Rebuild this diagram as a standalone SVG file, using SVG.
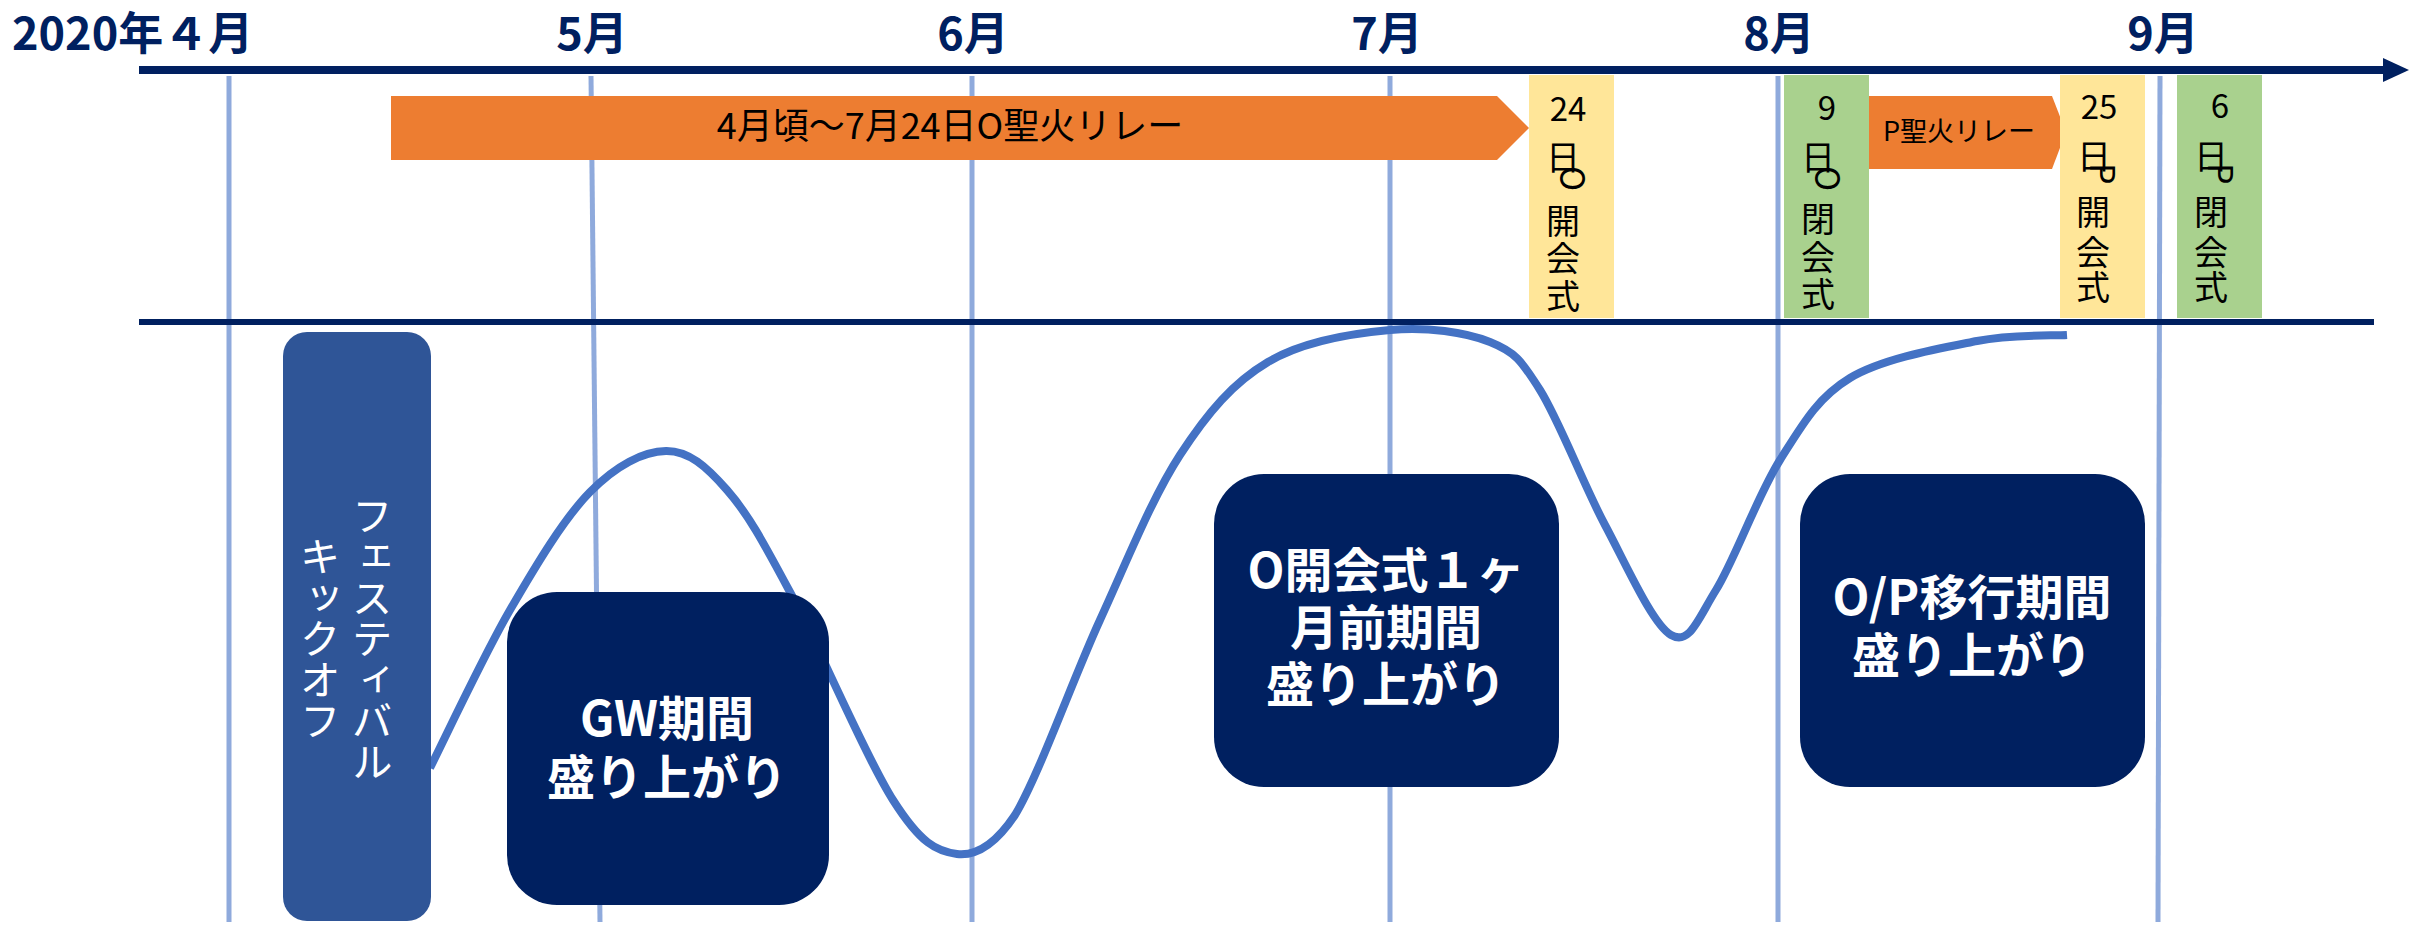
<svg xmlns="http://www.w3.org/2000/svg" width="2425" height="925" viewBox="0 0 2425 925">
<defs>
<marker id="axisHead" markerUnits="userSpaceOnUse" markerWidth="27" markerHeight="26" refX="0" refY="13" orient="auto">
<path d="M0,1 L26,13 L0,25 z" fill="#002060"/>
</marker>
<style>
.jp{font-family:"Noto Sans CJK JP","Noto Sans",sans-serif}
.month{font-size:45px;font-weight:700;fill:#002060;text-anchor:middle}
.vline{stroke:#8FAADC;stroke-width:5;fill:none}
.axis{stroke:#002060;fill:none}
.date{font-size:34px;fill:#000;text-anchor:middle}
.dnum{font-size:33px}
.rot{font-size:34px;fill:#000}
.relay{fill:#ED7D31}
.yellow{fill:#FFE699}
.green{fill:#A9D18E}
.node{fill:#002060}
.ntext{fill:#fff;font-size:48px;font-weight:700;text-anchor:middle}
.vtext{fill:#fff;font-size:41px;writing-mode:vertical-rl;text-anchor:middle}
.trend{fill:none;stroke:#4472C4;stroke-width:8;stroke-linecap:butt;stroke-linejoin:round}
</style>
</defs>
<rect width="2425" height="925" fill="#fff"/>

<g id="month-lines">
<line class="vline" x1="229" y1="76" x2="229" y2="922"/>
<line class="vline" x1="591" y1="76" x2="600" y2="922"/>
<line class="vline" x1="972" y1="76" x2="972" y2="922"/>
<line class="vline" x1="1390" y1="76" x2="1390" y2="922"/>
<line class="vline" x1="1778" y1="76" x2="1778" y2="922"/>
<line class="vline" x1="2160" y1="76" x2="2158" y2="922"/>
</g>

<g id="month-labels" class="jp">
<text class="month" x="12" y="50" text-anchor="start" style="text-anchor:start">2020年４月</text>
<text class="month" x="592" y="50">5月</text>
<text class="month" x="973" y="50">6月</text>
<text class="month" x="1387" y="50">7月</text>
<text class="month" x="1779" y="50">8月</text>
<text class="month" x="2163" y="50">9月</text>
</g>

<g id="axes">
<line class="axis" x1="139" y1="70" x2="2383" y2="70" stroke-width="8" marker-end="url(#axisHead)"/>
<line class="axis" x1="139" y1="322" x2="2374" y2="322" stroke-width="6"/>
</g>

<g id="o-torch-relay">
<polygon class="relay" points="391,96 1497,96 1529,128 1497,160 391,160"/>
<text class="jp" x="950" y="139" font-size="36" text-anchor="middle" fill="#000">4月頃～7月24日O聖火リレー</text>
</g>

<g id="o-opening">
<rect class="yellow" x="1529" y="75" width="85" height="243"/>
<text class="jp date"><tspan class="dnum" x="1568" y="121">24</tspan><tspan x="1563" y="170">日</tspan><tspan x="1563" y="234">開</tspan><tspan x="1563" y="271">会</tspan><tspan x="1563" y="309">式</tspan></text>
<text class="jp rot" x="1560" y="166" rotate="90">O</text>
</g>

<g id="o-closing">
<rect class="green" x="1784" y="75" width="85" height="243"/>
<text class="jp date"><tspan class="dnum" x="1827" y="120">9</tspan><tspan x="1818" y="170">日</tspan><tspan x="1818" y="232">閉</tspan><tspan x="1818" y="270">会</tspan><tspan x="1818" y="307">式</tspan></text>
<text class="jp rot" x="1815" y="166" rotate="90">O</text>
</g>

<g id="p-torch-relay">
<polygon class="relay" points="1869,96 2052,96 2066,132 2052,169 1869,169"/>
<text class="jp" x="1959" y="141" font-size="27" text-anchor="middle" fill="#000">P聖火リレー</text>
</g>

<g id="p-opening">
<rect class="yellow" x="2060" y="75" width="85" height="243"/>
<text class="jp date"><tspan class="dnum" x="2099" y="119">25</tspan><tspan x="2094" y="169">日</tspan><tspan x="2093" y="225">開</tspan><tspan x="2093" y="265">会</tspan><tspan x="2093" y="300">式</tspan></text>
<text class="jp rot" x="2090" y="163" rotate="90">P</text>
</g>

<g id="p-closing">
<rect class="green" x="2177" y="75" width="85" height="243"/>
<text class="jp date"><tspan class="dnum" x="2220" y="118">6</tspan><tspan x="2211" y="169">日</tspan><tspan x="2211" y="225">閉</tspan><tspan x="2211" y="265">会</tspan><tspan x="2211" y="300">式</tspan></text>
<text class="jp rot" x="2208" y="163" rotate="90">P</text>
</g>

<g id="connectors">
<path class="trend" d="M430,768 C443.3,741.7 483.3,656 510,610 C536.7,564 564,518.5 590,492 C616,465.5 643.2,451.3 666,451 C688.8,450.7 706.3,466.5 727,490 C747.7,513.5 762.3,540.3 790,592 C817.7,643.7 865.2,756.3 893,800 C920.8,843.7 936.7,851.5 957,854 C975,856 995,845 1015,815 C1038.5,776.2 1072.5,680 1100,620 C1127.5,560 1152,498 1180,455 C1208,412 1233,382.8 1268,362 C1303,341.2 1353,333.3 1390,330 C1427,326.7 1465,332 1490,342 C1515,352 1520.8,359.5 1540,390 C1559.2,420.5 1583.2,484.2 1605,525 C1626.8,565.8 1652.5,624.2 1671,635 C1689.5,645.8 1697.8,619.2 1716,590 C1734.2,560.8 1757.7,495.3 1780,460 C1802.3,424.7 1817.2,397.8 1850,378 C1882.8,358.2 1940.8,348.2 1977,341 C2013.2,333.8 2052,336 2067,335"/>
</g>

<g id="festival-kickoff">
<rect x="283" y="332" width="148" height="589" rx="24" ry="24" fill="#2F5597"/>
<text class="jp vtext" x="372" y="638">フェスティバル</text>
<text class="jp vtext" x="320" y="638">キックオフ</text>
</g>

<g id="gw-period">
<rect class="node" x="507" y="592" width="322" height="313" rx="50" ry="50"/>
<text class="jp ntext"><tspan x="667" y="736">GW期間</tspan><tspan x="667" y="795">盛り上がり</tspan></text>
</g>

<g id="o-opening-month">
<rect class="node" x="1214" y="474" width="345" height="313" rx="50" ry="50"/>
<text class="jp ntext"><tspan x="1386" y="588">O開会式１ヶ</tspan><tspan x="1386" y="645">月前期間</tspan><tspan x="1386" y="702">盛り上がり</tspan></text>
</g>

<g id="op-transition">
<rect class="node" x="1800" y="474" width="345" height="313" rx="50" ry="50"/>
<text class="jp ntext"><tspan x="1972" y="615">O/P移行期間</tspan><tspan x="1972" y="673">盛り上がり</tspan></text>
</g>
</svg>
